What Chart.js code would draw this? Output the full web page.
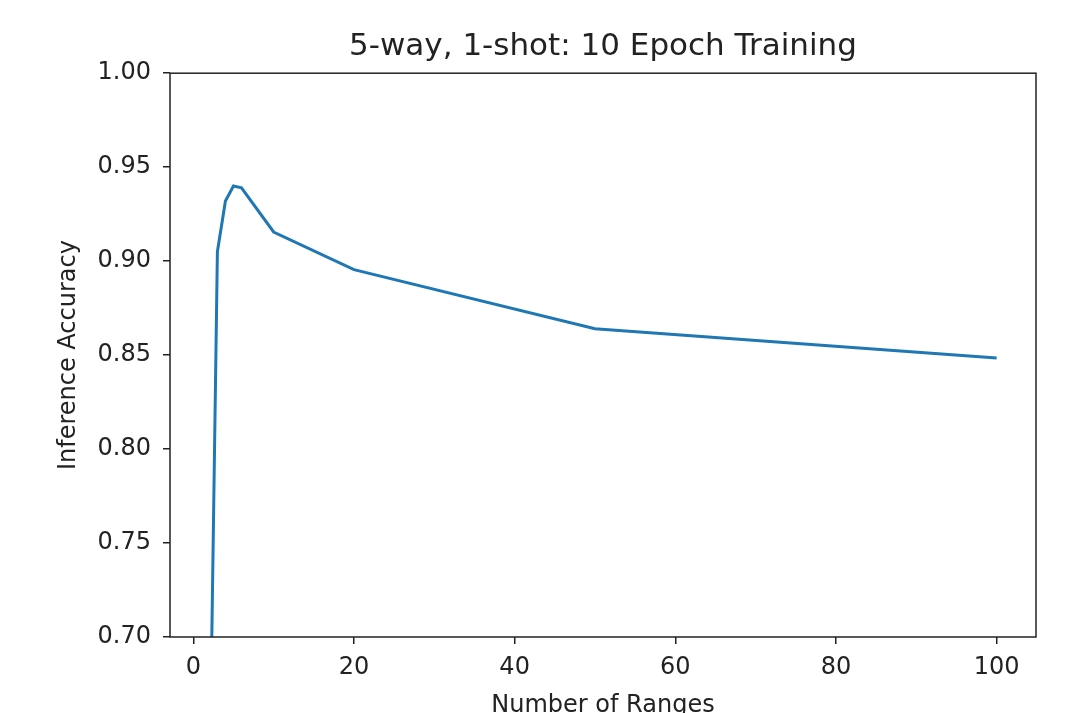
<!DOCTYPE html>
<html>
<head>
<meta charset="utf-8">
<script src="https://cdn.jsdelivr.net/npm/chart.js@4.4.1/dist/chart.umd.min.js"></script>
<style>
    body { margin: 0; background: #fff; }
    canvas { display: block; }
</style>
</head>
<body>
<canvas id="myChart" width="1077" height="713"></canvas>
<script>
// データ
const rangeCounts = [2, 3, 4, 5, 6, 10, 20, 50, 100];
const accuracy = [0.61, 0.905, 0.932, 0.940, 0.939, 0.9155, 0.8955, 0.864, 0.8485];
const xTicks = [0, 20, 40, 60, 80, 100];
const yTicks = [0.70, 0.75, 0.80, 0.85, 0.90, 0.95, 1.00];

const textColor = "#222";
const fontFamily = "'DejaVu Sans', sans-serif";

// 枠線(上下左右)を描くプラグイン
const frameBox = {
    id: "frameBox",
    afterDraw: (chart) => {
        const { ctx, chartArea } = chart;
        ctx.save();
        ctx.strokeStyle = "#222";
        ctx.lineWidth = 1.5;
        ctx.strokeRect(chartArea.left, chartArea.top,
            chartArea.right - chartArea.left, chartArea.bottom - chartArea.top);
        ctx.restore();
    },
};

const ctx = document.getElementById("myChart");

new Chart(ctx, {
    type: "line",
    data: {
        datasets: [
            {
                data: rangeCounts.map((x, i) => ({ x: x, y: accuracy[i] })),
                borderColor: "#1f77b4",
                borderWidth: 3,
                pointRadius: 0,
                tension: 0,
                clip: 0,
            },
        ],
    },
    options: {
        responsive: false,
        animation: false,
        layout: {
            padding: { left: 0, right: 41, top: 0, bottom: 0 },
        },
        plugins: {
            legend: { display: false },
            tooltip: { enabled: false },
            title: {
                display: true,
                fullSize: false,
                text: "5-way, 1-shot: 10 Epoch Training",
                color: textColor,
                font: { family: fontFamily, size: 31, weight: "normal" },
                padding: { top: 28, bottom: 8 },
            },
        },
        scales: {
            x: {
                type: "linear",
                min: -2.9,
                max: 104.9,
                afterFit: (scale) => { scale.height = 76; },
                afterBuildTicks: (scale) => {
                    scale.ticks = xTicks.map((v) => ({ value: v }));
                },
                ticks: {
                    color: textColor,
                    font: { family: fontFamily, size: 24 },
                    padding: 9,
                    maxRotation: 0,
                    callback: (v) => String(v),
                },
                grid: {
                    drawOnChartArea: false,
                    drawTicks: true,
                    tickLength: 7,
                    color: "#222",
                    lineWidth: 1.5,
                },
                border: { display: false },
                title: {
                    display: true,
                    text: "Number of Ranges",
                    color: textColor,
                    font: { family: fontFamily, size: 24 },
                    padding: { top: 0, bottom: -7 },
                },
            },
            y: {
                min: 0.7,
                max: 1.0,
                afterFit: (scale) => { scale.width = 170; },
                afterBuildTicks: (scale) => {
                    scale.ticks = yTicks.map((v) => ({ value: v }));
                },
                ticks: {
                    color: textColor,
                    font: { family: fontFamily, size: 24 },
                    padding: 12,
                    callback: (v) => v.toFixed(2),
                },
                grid: {
                    drawOnChartArea: false,
                    drawTicks: true,
                    tickLength: 7,
                    color: "#222",
                    lineWidth: 1.5,
                },
                border: { display: false },
                title: {
                    display: true,
                    text: "Inference Accuracy",
                    color: textColor,
                    font: { family: fontFamily, size: 24 },
                    padding: { top: 54, bottom: 0 },
                },
            },
        },
    },
    plugins: [frameBox],
});
</script>
</body>
</html>
